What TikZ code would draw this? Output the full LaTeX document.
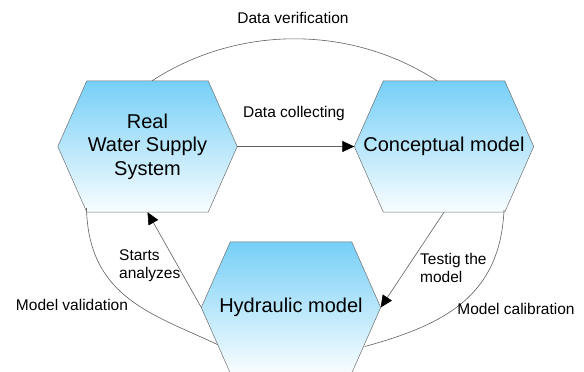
\documentclass[tikz,border=0pt]{standalone}
\usepackage{fontspec}
\setmainfont{Liberation Sans}
\usetikzlibrary{arrows.meta,calc,backgrounds}
\definecolor{hexblue}{RGB}{118,207,247}
\definecolor{hexedge}{RGB}{110,110,110}
\definecolor{linegray}{RGB}{95,95,95}
\tikzset{
  hexnode/.style={rectangle, minimum width=179pt, minimum height=131pt, inner sep=0pt,
    font=\fontsize{20}{23.5}\selectfont, align=center},
  hexfill/.style={draw=hexedge, line width=0.5pt, top color=hexblue, bottom color=white!96!hexblue},
  lbl/.style={font=\fontsize{15.5}{18}\selectfont, inner sep=0pt},
  conn/.style={draw=linegray, line width=0.6pt},
  arr/.style={conn, -{Triangle[length=12pt,width=11pt,color=black]}}
}
\begin{document}
\begin{tikzpicture}[x=1pt,y=-1pt]
\useasboundingbox (0,0) rectangle (584,372);
\node[hexnode] (h1) at (147.5,146.5) {Real\\Water Supply\\System};
\node[hexnode] (h2) at (444,146.5) {Conceptual model};
\node[hexnode] (h3) at (291,307.5) {Hydraulic model};
\begin{scope}[on background layer]
\foreach \n in {h1,h2,h3}
  \shade[hexfill] (\n.west) -- ($(\n.north west)+(29,0)$) -- ($(\n.north east)+(-29,0)$)
    -- (\n.east) -- ($(\n.south east)+(-29,0)$) -- ($(\n.south west)+(29,0)$) -- cycle;
\end{scope}
\draw[arr] (h1.east) -- (h2.west);
\draw[arr] (h2.south) -- (h3.east);
\draw[arr] (h3.west) -- (h1.south);
\draw[conn] ($(h1.north)+(4.5,0)$) .. controls +(86,-56) and +(-86,-56) .. ($(h2.north)+(-7,0)$);
\draw[conn] ($(h1.south)+(-61,-4)$) .. controls +(2,90) and +(-63,-30) .. ($(h3.west)+(16,37)$);
\draw[conn] ($(h2.south)+(60,-2)$) .. controls +(-4,85) and +(81,-22) .. ($(h3.east)+(-16,39)$);
\node[lbl] (ldv) at (293,18) {Data verification};
\node[lbl] (ldc) at (294,113) {Data collecting};
\node[lbl, anchor=west, align=left] (lsa) at (119,266) {Starts\\analyzes};
\node[lbl, anchor=west, align=left] (ltm) at (420,267.5) {Testig the\\model};
\node[lbl] (lmv) at (72,305) {Model validation};
\node[lbl] (lmc) at (516,309) {Model calibration};
\end{tikzpicture}
\end{document}
